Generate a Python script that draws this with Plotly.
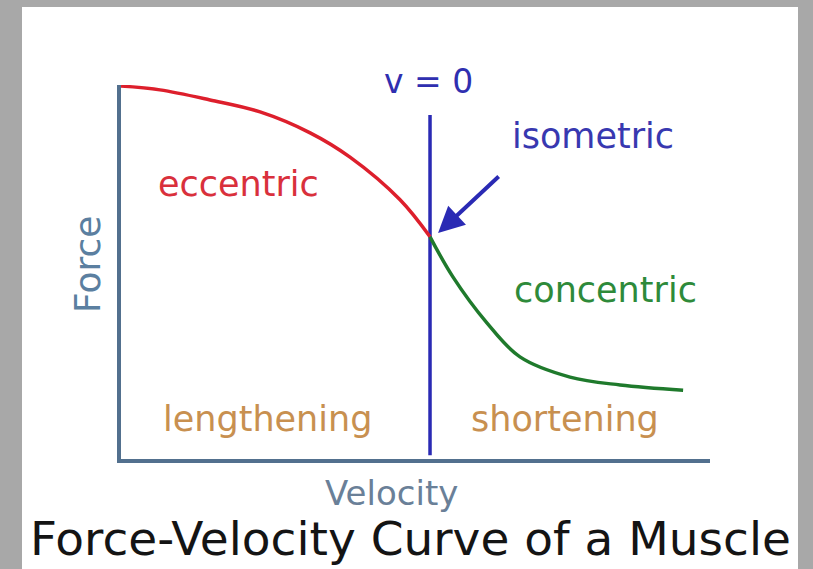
import plotly.graph_objects as go

# --- data (velocity: negative = lengthening, positive = shortening) ---
ecc_velocity = [-1.0, -0.874, -0.712, -0.550, -0.388, -0.259, -0.097, 0.0]
ecc_force = [0.997, 0.987, 0.960, 0.928, 0.872, 0.807, 0.693, 0.594]

con_velocity = [0.0, 0.074, 0.184, 0.291, 0.453, 0.615, 0.819]
con_force = [0.594, 0.487, 0.364, 0.273, 0.219, 0.198, 0.184]

zero_line_v = [0.0, 0.0]
zero_line_f = [0.01, 0.92]

W, H = 813, 569
L, R, T, B = 121, 103, 85, 110
pw, ph = W - L - R, H - T - B


def px(x):
    return (x - L) / pw


def py(y):
    return (H - B - y) / ph


fig = go.Figure()

fig.add_trace(go.Scatter(x=zero_line_v, y=zero_line_f, mode="lines",
                         line=dict(color="#2a2ab4", width=3.5), cliponaxis=False))
fig.add_trace(go.Scatter(x=ecc_velocity, y=ecc_force, mode="lines",
                         line=dict(color="#dd1f2c", width=3.5, shape="spline"), cliponaxis=False))
fig.add_trace(go.Scatter(x=con_velocity, y=con_force, mode="lines",
                         line=dict(color="#1f7a2c", width=3.5, shape="spline"), cliponaxis=False))

# white card on grey background
fig.add_shape(type="rect", xref="paper", yref="paper",
              x0=px(22), x1=px(798), y0=py(569), y1=py(7),
              fillcolor="white", line=dict(width=0), layer="below")

font = "DejaVu Sans, Verdana, sans-serif"


def label(text, x, y, color, size=35, angle=0):
    fig.add_annotation(text=text, xref="paper", yref="paper", x=px(x), y=py(y),
                       showarrow=False, xanchor="center", yanchor="middle",
                       textangle=angle, font=dict(family=font, size=size, color=color))


label("v = 0", 428, 82, "#2f2fb0", size=33)
label("isometric", 593, 136, "#3838b0")
label("eccentric", 238, 184, "#d9303c")
label("concentric", 605, 290, "#2e8a3a")
label("lengthening", 267, 419, "#c89050")
label("shortening", 565, 419, "#c89050")
label("Velocity", 391, 493, "#6a8098", size=34)
label("Force", 87, 265, "#5b7fa0", size=36, angle=-90)
label("Force-Velocity Curve of a Muscle", 410, 538, "#141414", size=47)

# arrow pointing at the isometric point
fig.add_annotation(x=0.026, y=0.604, ax=0.227, ay=0.759, xref="x", yref="y",
                   axref="x", ayref="y", text="", showarrow=True,
                   arrowhead=2, arrowsize=1.3, arrowwidth=4, arrowcolor="#2a2ab4",
                   standoff=0)

fig.update_layout(
    width=W, height=H,
    margin=dict(l=L, r=R, t=T, b=B),
    paper_bgcolor="#a8a8a8",
    plot_bgcolor="white",
    showlegend=False,
    xaxis=dict(range=[-1.0, 0.906], showgrid=False, zeroline=False, showticklabels=False,
               ticks="", showline=True, linecolor="#52708e", linewidth=3.5, fixedrange=True),
    yaxis=dict(range=[0, 1.0], showgrid=False, zeroline=False, showticklabels=False,
               ticks="", showline=True, linecolor="#52708e", linewidth=3.5, fixedrange=True),
)

fig.write_html("out.html", config={"displayModeBar": False},
               post_script="document.body.style.margin = '0';")
